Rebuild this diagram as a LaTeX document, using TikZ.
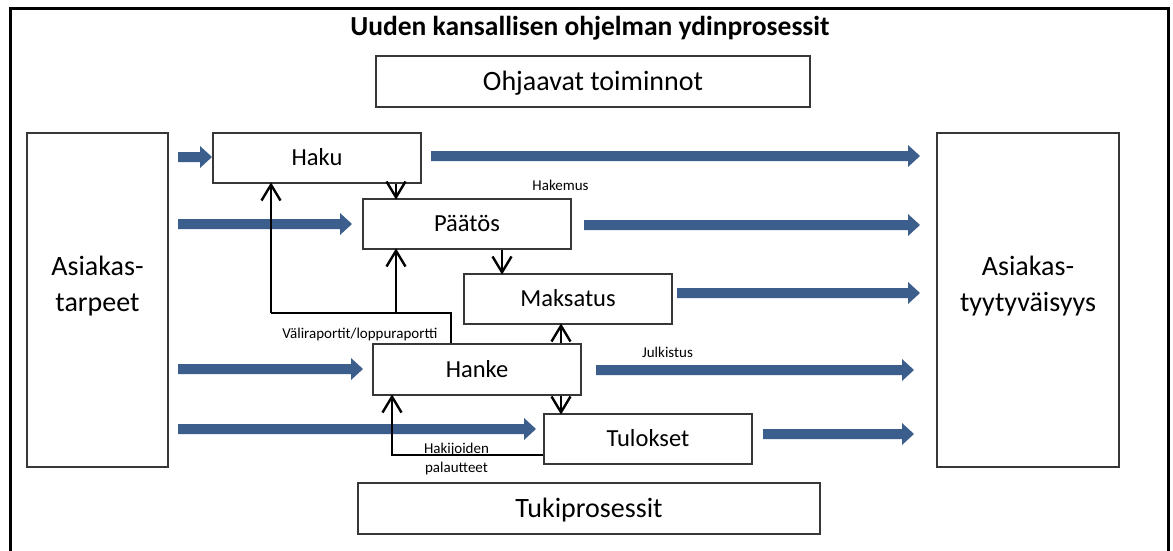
\documentclass[tikz,border=0pt]{standalone}
\usepackage{fontspec}
\setmainfont{Carlito}
\usetikzlibrary{arrows.meta}
\definecolor{flowblue}{RGB}{59,94,140}
\definecolor{boxline}{RGB}{55,55,55}
% open V arrow tip
\pgfdeclarearrow{
  name = OpenVee,
  parameters = {\the\pgfarrowlength,\the\pgfarrowwidth},
  setup code = {
    \pgfarrowssettipend{0pt}
    \pgfarrowssetlineend{-1.5pt}
    \pgfarrowsupperhullpoint{-\pgfarrowlength}{.5\pgfarrowwidth}
    \pgfarrowshullpoint{0pt}{0pt}
    \pgfarrowssavethe\pgfarrowlength
    \pgfarrowssavethe\pgfarrowwidth
  },
  drawing code = {
    \pgfsetdash{}{0pt}
    \pgfsetlinewidth{2.4pt}
    \pgfsetmiterjoin
    \pgfsetbuttcap
    \pgfpathmoveto{\pgfqpoint{-\pgfarrowlength}{.5\pgfarrowwidth}}
    \pgfpathlineto{\pgfqpoint{-1.2pt}{0pt}}
    \pgfpathlineto{\pgfqpoint{-\pgfarrowlength}{-.5\pgfarrowwidth}}
    \pgfusepathqstroke
  },
  defaults = {length = 17pt, width = 19pt}
}
% blue block arrow: #1 = start x, #2 = tip x, #3 = centre y
\newcommand\flowarr[3]{%
  \fill[flowblue] (#1,#3-5) -- (#2-12,#3-5) -- (#2-12,#3-11) -- (#2,#3)
    -- (#2-12,#3+11) -- (#2-12,#3+5) -- (#1,#3+5) -- cycle;}
\begin{document}
\begin{tikzpicture}[x=1pt,y=-1pt,
  box/.style={draw=boxline, line width=1.1pt, fill=white, inner sep=0pt, text depth=0pt},
  proc/.style={box, minimum width=208pt, minimum height=50pt, text height=15.8pt,
    font=\fontsize{24.5}{29}\selectfont},
  wide/.style={box, minimum height=51pt, text height=18pt, font=\fontsize{28}{34}\selectfont},
  side/.style={draw=boxline, line width=1.1pt, fill=white, minimum height=334pt},
  sidetext/.style={align=center, inner sep=0pt, font=\fontsize{28}{36}\selectfont},
  small/.style={anchor=base, inner sep=0pt, font=\fontsize{15}{18}\selectfont},
  conn/.style={draw=black, line width=2.4pt, -{OpenVee[length=17pt,width=19pt]}},
  line/.style={draw=black, line width=2.4pt}]
\useasboundingbox (0,0) rectangle (1173,551);
\fill[white] (0,0) rectangle (1173,551);
% outer frame
\draw[line width=3pt] (10,551) -- (10,9) -- (1168,9) -- (1168,551);

% title
\node[anchor=base, inner sep=0pt, font=\bfseries\fontsize{27.5}{33}\selectfont] (title) at (590,36)
  {Uuden kansallisen ohjelman ydinprosessit};

% top and bottom boxes
\node[wide, minimum width=434pt] (ohj) at (593,81.5) {Ohjaavat toiminnot};
\node[wide, minimum width=462pt] (tuki) at (589,508.5) {Tukiprosessit};

% side boxes
\node[side, minimum width=141pt] (tarpeet) at (97.5,300) {};
\node[sidetext] (tarpeetlabel) at (97.5,286) {Asiakas-\\tarpeet};
\node[side, minimum width=182pt] (tyyty) at (1028,300) {};
\node[sidetext] (tyytylabel) at (1028,286) {Asiakas-\\tyytyväisyys};

% blue flow arrows
\flowarr{178}{212}{157}
\flowarr{431}{920}{156}
\flowarr{178}{352}{224}
\flowarr{584}{920}{225}
\flowarr{677}{920}{293}
\flowarr{178}{363}{369}
\flowarr{596}{914}{370}
\flowarr{178}{536}{429}
\flowarr{763}{914}{434}

% process boxes
\node[proc] (haku) at (317,158) {Haku};
\node[proc] (paatos) at (467,224) {Päätös};
\node[proc] (maksatus) at (568,299) {Maksatus};
\node[proc, minimum height=51pt] (hanke) at (477,369.5) {Hanke};
\node[proc] (tulokset) at (648,439) {Tulokset};

% junction coordinates
\coordinate (j1) at (271,313);
\coordinate (j2) at (396,313);

% connectors
\draw[conn] (haku.south -| 396,0) -- (paatos.north -| 396,0);
\draw[line] (hanke.north -| 451,0) |- (j1);
\draw[conn] (j1) -- (haku.south -| j1);
\draw[conn] (j2) -- (paatos.south -| j2);
\draw[conn] (paatos.south -| 502,0) -- (maksatus.north -| 502,0);
\draw[conn] (hanke.north -| 561,0) -- (maksatus.south -| 561,0);
\draw[conn] (hanke.south -| 561,0) -- (tulokset.north -| 561,0);
\draw[conn] (tulokset.west |- 0,455) -| (hanke.south -| 392,0);

% labels
\node[small] (hakemus) at (560.5,190) {Hakemus};
\node[small] (julkistus) at (667.5,357) {Julkistus};
\node[small] (vali) at (360,338) {Väliraportit/loppuraportti};
\node[small] (hakij) at (456.5,453) {Hakijoiden};
\node[small] (palaut) at (456.5,472) {palautteet};
\end{tikzpicture}
\end{document}
